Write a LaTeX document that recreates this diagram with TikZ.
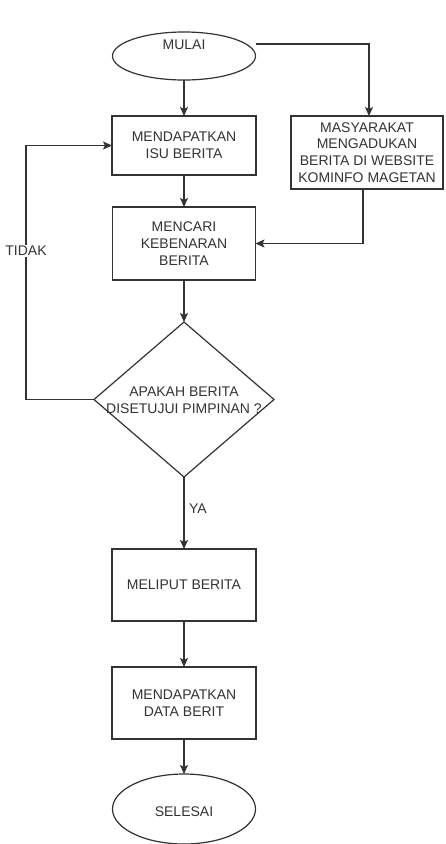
\documentclass[tikz,border=0pt]{standalone}
\usepackage{fontspec}
\setmainfont{Liberation Sans}
\usetikzlibrary{shapes.geometric,arrows.meta}
\definecolor{ink}{HTML}{333333}
\begin{document}
\begin{tikzpicture}[x=1pt,y=-1pt,
  every node/.style={font=\fontsize{14}{16.8}\selectfont, text=ink, inner sep=0pt, outer sep=0pt, align=center},
  box/.style={rectangle, draw=ink, line width=1.2pt, fill=white},
  term/.style={ellipse, draw=ink, line width=1.2pt, fill=white},
  dec/.style={diamond, draw=ink, line width=1.2pt},
  arr/.style={draw=ink, line width=1.2pt, -{Stealth[length=9pt,width=8pt,inset=2pt]}},
  lbl/.style={fill=white, inner sep=1pt}
]
\useasboundingbox (0,0) rectangle (445,844);

\node[term, minimum width=143pt, minimum height=48pt] (mulai) at (184,56) {};
\node (tmulai) at (184,45) {MULAI};
\node[box, minimum width=144pt, minimum height=59pt] (isu) at (184,145.5) {MENDAPATKAN\\ISU BERITA};
\node[box, minimum width=152pt, minimum height=73pt] (masy) at (367,152.5) {MASYARAKAT\\MENGADUKAN\\BERITA DI WEBSITE\\KOMINFO MAGETAN};
\node[box, minimum width=143pt, minimum height=73pt] (cari) at (184,243.5) {MENCARI\\KEBENARAN\\BERITA};
\node[dec, minimum width=180pt, minimum height=155pt] (dia) at (184,399.5) {};
\node (tdia) at (184,400) {APAKAH BERITA\\DISETUJUI PIMPINAN ?};
\node[box, minimum width=144pt, minimum height=72pt] (meliput) at (184,585) {MELIPUT BERITA};
\node[box, minimum width=144pt, minimum height=72pt] (data) at (184,703) {MENDAPATKAN\\DATA BERIT};
\node[term, minimum width=143pt, minimum height=70pt] (selesai) at (184,809) {};
\node (tselesai) at (184,812) {SELESAI};

\coordinate (loop) at (26,399.5);

\draw[arr] (mulai.south) -- (isu.north);
\draw[arr] ([yshift=12pt]mulai.east) -| ([xshift=2pt]masy.north);
\draw[arr] (isu.south) -- (cari.north);
\draw[arr] ([xshift=-4pt]masy.south) |- (cari.east);
\draw[arr] (cari.south) -- (dia.north);
\draw[arr] (dia.west) -- (loop) |- (isu.west);
\node[lbl] (tidak) at (26,251) {TIDAK};
\draw[arr] (dia.south) -- (meliput.north);
\node[anchor=west] (ya) at (189,509) {YA};
\draw[arr] (meliput.south) -- (data.north);
\draw[arr] (data.south) -- (selesai.north);
\end{tikzpicture}
\end{document}
